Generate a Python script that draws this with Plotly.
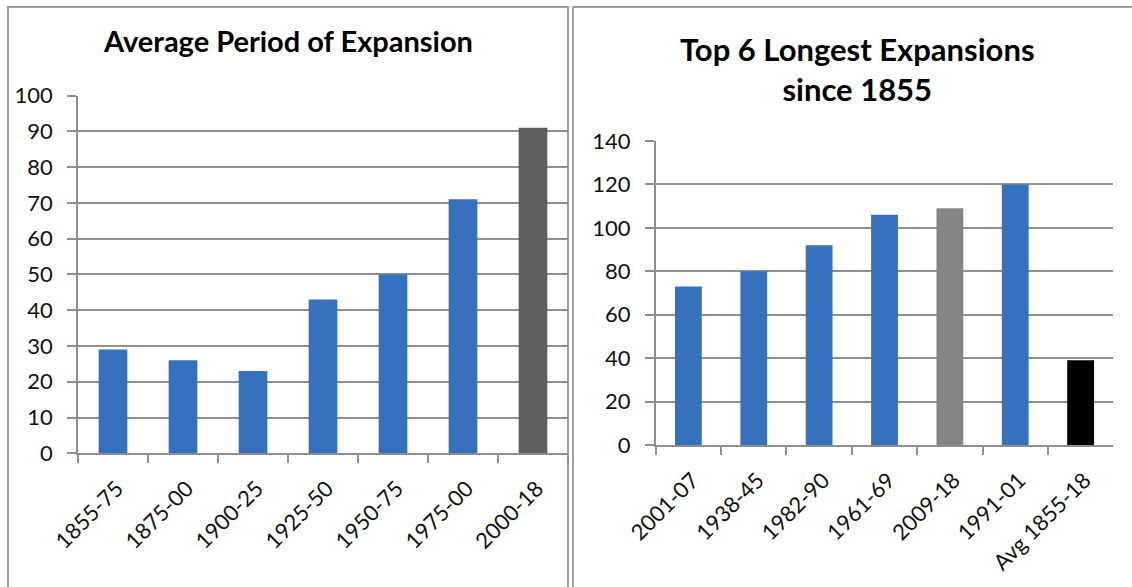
import plotly.graph_objects as go

# ---- data ----
left_title = "Average Period of Expansion"
left_categories = ["1855-75", "1875-00", "1900-25", "1925-50", "1950-75", "1975-00", "2000-18"]
left_values = [29, 26, 23, 43, 50, 71, 91]
left_colors = ["#3671BE"] * 6 + ["#5E5E5E"]

right_title = "Top 6 Longest Expansions<br>since 1855"
right_categories = ["2001-07", "1938-45", "1982-90", "1961-69", "2009-18", "1991-01", "Avg 1855-18"]
right_values = [73, 80, 92, 106, 109, 120, 39]
right_colors = ["#3671BE"] * 4 + ["#858585", "#3671BE", "#000000"]

left_ticks = [0, 10, 20, 30, 40, 50, 60, 70, 80, 90, 100]
right_ticks = [0, 20, 40, 60, 80, 100, 120, 140]

W, H = 1132, 587
def px(x):
    return x / W
def py(y):
    return 1 - y / H

FONT = "Lato"
GRID = "#8F8F8F"

fig = go.Figure()
fig.add_trace(go.Bar(x=left_categories, y=left_values, marker=dict(color=left_colors, line=dict(width=0)),
                     width=0.41, xaxis="x", yaxis="y", showlegend=False))
fig.add_trace(go.Bar(x=right_categories, y=right_values, marker=dict(color=right_colors, line=dict(width=0)),
                     width=0.41, xaxis="x2", yaxis="y2", showlegend=False))

axis_common = dict(type="category", showgrid=False, showline=True, linecolor=GRID, linewidth=1.5,
                   ticks="outside", ticklen=8, tickcolor=GRID, tickwidth=1.5, automargin=False,
                   ticklabelstandoff=12, ticklabelshift=4,
                   tickfont=dict(family=FONT, size=22, color="#111111"), fixedrange=True)
yaxis_common = dict(showgrid=True, gridcolor=GRID, gridwidth=1.5, showline=True, linecolor=GRID,
                    linewidth=1.5, ticks="outside", ticklen=9, tickcolor=GRID, tickwidth=1.5, automargin=False,
                    ticklabelstandoff=10,
                    tickfont=dict(family=FONT, size=22, color="#111111"), zeroline=False, fixedrange=True)

fig.update_layout(
    template="none",
    width=W, height=H, margin=dict(l=0, r=0, t=0, b=0, autoexpand=False),
    paper_bgcolor="white", plot_bgcolor="white",
    xaxis=dict(domain=[px(78), px(568)], anchor="y", tickangle=-45, tickson="boundaries", **axis_common),
    yaxis=dict(domain=[py(453.3), py(95.5)], anchor="x", range=[0, 100], tickvals=left_ticks, **yaxis_common),
    xaxis2=dict(domain=[px(655.7), px(1113.3)], anchor="y2", tickangle=-45, tickson="boundaries", **axis_common),
    yaxis2=dict(domain=[py(445), py(141)], anchor="x2", range=[0, 140], tickvals=right_ticks, **yaxis_common),
    bargap=0.59,
    annotations=[
        dict(text="<b>" + left_title + "</b>", x=px(288), y=py(41), xref="paper", yref="paper",
             xanchor="center", yanchor="middle", showarrow=False,
             font=dict(family=FONT, size=29, color="#000000")),
        dict(text="<b>" + right_title + "</b>", x=px(857), y=py(69), xref="paper", yref="paper",
             xanchor="center", yanchor="middle", showarrow=False,
             font=dict(family=FONT, size=31, color="#000000")),
    ],
    shapes=[
        dict(type="rect", xref="paper", yref="paper", x0=px(8), x1=px(568), y0=py(600), y1=py(7),
             line=dict(color="#A0A0A0", width=2), layer="below"),
        dict(type="rect", xref="paper", yref="paper", x0=px(573), x1=px(1145), y0=py(600), y1=py(7),
             line=dict(color="#A0A0A0", width=2), layer="below"),
    ],
)

fig.write_html("out.html")
